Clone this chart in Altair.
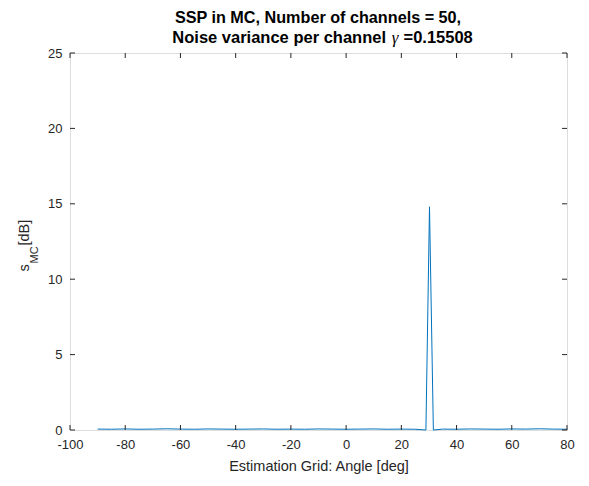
import altair as alt
import pandas as pd

# Data
angle = [-90, -85, -80, -75, -70, -65, -60, -55, -50, -45, -40, -35, -30, -25,
         -20, -15, -10, -5, 0, 5, 10, 15, 20, 25, 28.9, 30.2, 31.6, 35, 40, 45,
         50, 55, 60, 65, 70, 75, 80]
ssp_db = [0.06, 0.05, 0.07, 0.05, 0.06, 0.08, 0.06, 0.05, 0.07, 0.06, 0.05, 0.06,
          0.07, 0.05, 0.06, 0.05, 0.07, 0.06, 0.05, 0.06, 0.07, 0.05, 0.06, 0.05,
          0.0, 14.8, 0.0, 0.06, 0.05, 0.07, 0.06, 0.05, 0.07, 0.06, 0.08, 0.06, 0.05]

x_ticks = [-100, -80, -60, -40, -20, 0, 20, 40, 60, 80]
y_ticks = [0, 5, 10, 15, 20, 25]

title_line1 = "SSP in MC, Number of channels = 50,"
title_line2 = ["Noise variance per channel", "\u03b3", "=0.15508"]
x_title = "Estimation Grid: Angle [deg]"
y_title_parts = ["s", "MC", "[dB]"]

W, H = 497, 377
FONT = "Liberation Sans"
AX = "#262626"
TL = 5
TFS = 16.5

df = pd.DataFrame({"angle": angle, "ssp": ssp_db})
xt = pd.DataFrame({"t": x_ticks})
yt = pd.DataFrame({"t": y_ticks})

xs = alt.Scale(domain=[-100, 80], nice=False, zero=False)
ys = alt.Scale(domain=[0, 25], nice=False)

line = alt.Chart(df).mark_line(color="#0072BD", strokeWidth=1).encode(
    x=alt.X("angle:Q", scale=xs,
            axis=alt.Axis(values=x_ticks, title=x_title, ticks=False, domain=False,
                          grid=False, labelPadding=8, titlePadding=8,
                          labelFontSize=13, titleFontSize=14.5, labelFont=FONT,
                          titleFont=FONT, labelColor=AX, titleColor=AX,
                          titleFontWeight="normal", labelFlush=False,
                          labelExpr="'' + datum.value")),
    y=alt.Y("ssp:Q", scale=ys,
            axis=alt.Axis(values=y_ticks, title=None, ticks=False, domain=False,
                          grid=False, labelPadding=8, labelFontSize=13,
                          labelFont=FONT, labelColor=AX, labelFlush=False,
                          labelExpr="'' + datum.value")),
)

tick_style = dict(color=AX, strokeWidth=1)
bottom_ticks = alt.Chart(xt).mark_rule(**tick_style).encode(
    x=alt.X("t:Q", scale=xs), y=alt.value(H), y2=alt.value(H - TL))
top_ticks = alt.Chart(xt).mark_rule(**tick_style).encode(
    x=alt.X("t:Q", scale=xs), y=alt.value(0), y2=alt.value(TL))
left_ticks = alt.Chart(yt).mark_rule(**tick_style).encode(
    y=alt.Y("t:Q", scale=ys), x=alt.value(0), x2=alt.value(TL))
right_ticks = alt.Chart(yt).mark_rule(**tick_style).encode(
    y=alt.Y("t:Q", scale=ys), x=alt.value(W), x2=alt.value(W - TL))

lab = pd.DataFrame({"s": [y_title_parts[0]], "mc": [y_title_parts[1]],
                    "db": [y_title_parts[2]], "t1": [title_line1],
                    "a": [title_line2[0]], "g": [title_line2[1]],
                    "b": [title_line2[2]]})
txt_style = dict(angle=270, align="left", baseline="alphabetic", font=FONT, color=AX)
t_s = alt.Chart(lab).mark_text(fontSize=14.5, **txt_style).encode(
    text="s:N", x=alt.value(-41.5), y=alt.value(218.5))
t_mc = alt.Chart(lab).mark_text(fontSize=11, **txt_style).encode(
    text="mc:N", x=alt.value(-32.5), y=alt.value(210.5))
t_db = alt.Chart(lab).mark_text(fontSize=14.5, **txt_style).encode(
    text="db:N", x=alt.value(-41.5), y=alt.value(192.5))

ttl = dict(font=FONT, fontWeight="bold", fontSize=TFS, color="black",
           baseline="alphabetic")
t1 = alt.Chart(lab).mark_text(align="center", font=FONT, fontWeight="bold",
                              fontSize=16.2, color="black",
                              baseline="alphabetic").encode(
    text="t1:N", x=alt.value(248), y=alt.value(-30.5))
t2a = alt.Chart(lab).mark_text(align="right", **ttl).encode(
    text="a:N", x=alt.value(316), y=alt.value(-10.5))
t2g = alt.Chart(lab).mark_text(align="center", font="Liberation Serif",
                               fontStyle="italic", fontSize=17, color="black",
                               baseline="alphabetic").encode(
    text="g:N", x=alt.value(325), y=alt.value(-10.5))
t2b = alt.Chart(lab).mark_text(align="left", **ttl).encode(
    text="b:N", x=alt.value(333.5), y=alt.value(-10.5))

chart = alt.layer(
    line, bottom_ticks, top_ticks, left_ticks, right_ticks, t_s, t_mc, t_db,
    t1, t2a, t2g, t2b
).properties(
    width=W, height=H,
    autosize=alt.AutoSizeParams(type="none"),
    padding={"left": 62, "top": 45, "right": 10, "bottom": 52},
).configure_view(stroke=AX, strokeWidth=1).configure(background="white")

chart.save("out.html", embed_options={"renderer": "svg", "actions": False})
